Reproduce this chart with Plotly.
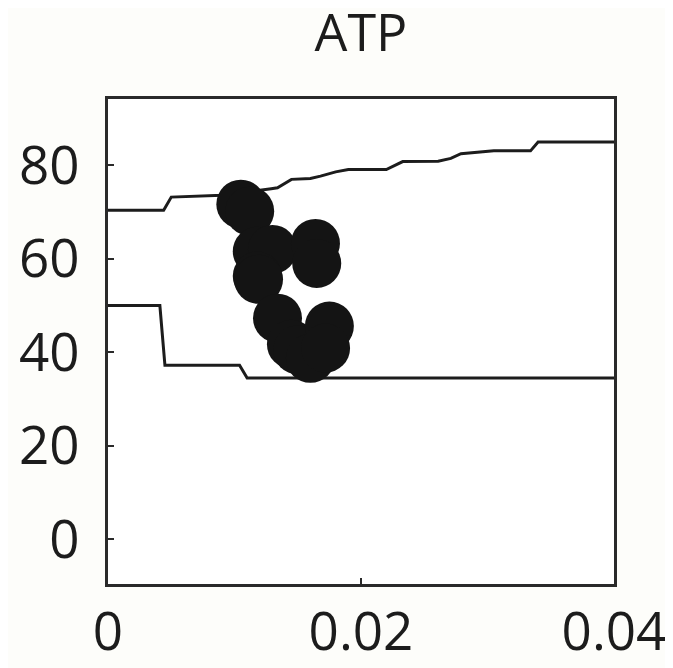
import plotly.graph_objects as go

# Upper boundary (step-like line)
upper_x = [0, 0.0044, 0.0050, 0.0090, 0.0129, 0.0134, 0.0145, 0.0160, 0.0168, 0.0180,
           0.0190, 0.0220, 0.0233, 0.0261, 0.0271, 0.0279, 0.0305, 0.0334, 0.0340, 0.04]
upper_y = [70.4, 70.4, 73.2, 73.6, 75.0, 75.2, 77.0, 77.2, 77.7, 78.6,
           79.1, 79.1, 80.8, 80.9, 81.5, 82.5, 83.1, 83.1, 85.0, 85.0]

# Lower boundary
lower_x = [0, 0.0041, 0.0045, 0.0104, 0.0110, 0.04]
lower_y = [50.0, 50.0, 37.2, 37.2, 34.5, 34.5]

# Data points
pts_x = [0.0105, 0.0112, 0.0118, 0.0130, 0.0118, 0.0119, 0.0164, 0.0165,
         0.0134, 0.0145, 0.0150, 0.0160, 0.0175, 0.0172]
pts_y = [71.7, 70.2, 61.6, 62.0, 56.3, 55.6, 63.3, 59.0,
         47.3, 41.7, 40.5, 38.7, 45.6, 40.9]

title_text = "ATP"
xticks = [0, 0.02, 0.04]
xticklabels = ["0", "0.02", "0.04"]
yticks = [0, 20, 40, 60, 80]
yticklabels = ["0", "20", "40", "60", "80"]

FONT = "Open Sans"
INK = "#1c1c1c"
W, H = 665, 660

fig = go.Figure()
fig.add_trace(go.Scatter(x=upper_x, y=upper_y, mode="lines",
                         line=dict(color=INK, width=3), showlegend=False))
fig.add_trace(go.Scatter(x=lower_x, y=lower_y, mode="lines",
                         line=dict(color=INK, width=3), showlegend=False))
fig.add_trace(go.Scatter(x=pts_x, y=pts_y, mode="markers",
                         marker=dict(color="#141414", size=49, line=dict(width=0)),
                         showlegend=False))

fig.update_layout(
    width=W, height=H,
    margin=dict(l=100, r=59, t=91, b=84, autoexpand=False),
    paper_bgcolor="#fdfdfa",
    plot_bgcolor="white",
    title=dict(text=title_text, x=353/W, xanchor="center", xref="container",
               y=1 - 25/H, yanchor="middle", yref="container",
               font=dict(family=FONT, size=52, color=INK)),
    font=dict(family=FONT, size=53, color=INK),
)
fig.update_xaxes(range=[0, 0.04], tickvals=xticks, ticktext=xticklabels,
                 automargin=False, ticklabeloverflow="allow",
                 showgrid=False, zeroline=False, showline=True, linewidth=2.5,
                 linecolor="#2a2a2a", mirror=True, ticks="inside", ticklen=6,
                 tickwidth=2, tickcolor="#2a2a2a", ticklabelstandoff=0,
                 tickfont=dict(family=FONT, size=53, color=INK))
fig.update_yaxes(range=[-9.6, 94.2], tickvals=yticks, ticktext=yticklabels,
                 automargin=False,
                 showgrid=False, zeroline=False, showline=True, linewidth=2.5,
                 linecolor="#2a2a2a", mirror=True, ticks="inside", ticklen=6,
                 tickwidth=2, tickcolor="#2a2a2a", ticklabelstandoff=15,
                 tickfont=dict(family=FONT, size=53, color=INK))

fig.write_html("out.html")
